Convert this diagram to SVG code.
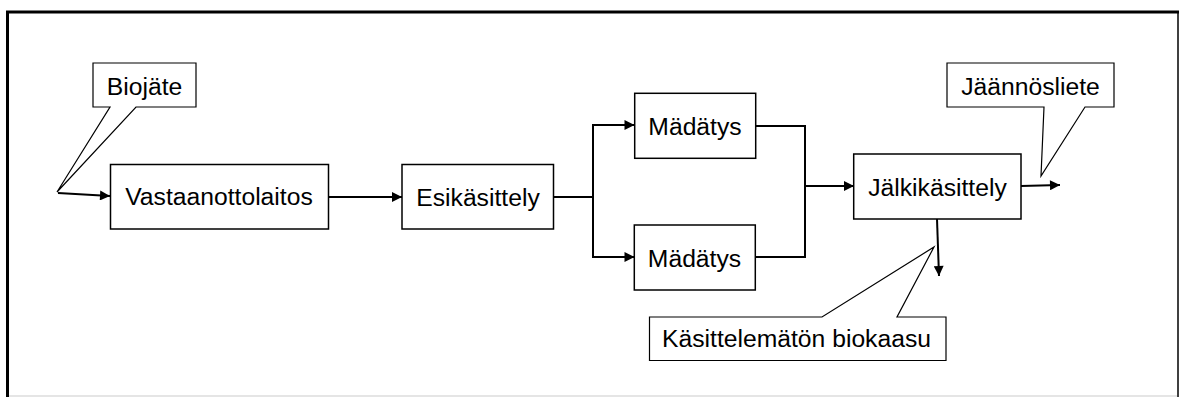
<svg xmlns="http://www.w3.org/2000/svg" width="1182" height="397" viewBox="0 0 1182 397">
  <style>
    .box { fill: #ffffff; stroke: #000000; stroke-width: 1.5; }
    .callout { fill: #ffffff; stroke: #000000; stroke-width: 1.2; stroke-linejoin: miter; }
    .label { font-family: "Liberation Sans", Arial, sans-serif; font-size: 24.7px; fill: #000000; text-anchor: middle; }
    .flow { fill: none; stroke: #000000; stroke-width: 2; }
  </style>
  <defs>
    <marker id="arrow" viewBox="0 0 10 10" refX="10" refY="5" markerWidth="12" markerHeight="10" markerUnits="userSpaceOnUse" orient="auto">
      <path d="M0,0 L10,5 L0,10 Z" fill="#000000"/>
    </marker>
  </defs>

  <rect x="0" y="0" width="1182" height="397" fill="#ffffff"/>

  <!-- frame -->
  <g id="frame">
    <line x1="7.5" y1="11" x2="7.5" y2="397" stroke="#000000" stroke-width="3"/>
    <line x1="6" y1="12" x2="1179" y2="12" stroke="#000000" stroke-width="3"/>
    <line x1="1178" y1="11" x2="1178" y2="397" stroke="#000000" stroke-width="1.5"/>
    <line x1="9" y1="396" x2="1177" y2="396" stroke="#dddddd" stroke-width="1.5"/>
  </g>

  <!-- connectors -->
  <g id="connectors">
    <path class="flow" d="M58,193 L110,196" marker-end="url(#arrow)"/>
    <path class="flow" d="M329,197 L402,197" marker-end="url(#arrow)"/>
    <path class="flow" d="M554,197 H593"/>
    <path class="flow" d="M593,125 V257"/>
    <path class="flow" d="M592,125 H634.5" marker-end="url(#arrow)"/>
    <path class="flow" d="M592,257 H634.5" marker-end="url(#arrow)"/>
    <path class="flow" d="M756,126 H805 V257 H756"/>
    <path class="flow" d="M805,186 H854" marker-end="url(#arrow)"/>
    <path class="flow" d="M1021,186 L1060,185" marker-end="url(#arrow)"/>
    <path class="flow" d="M937,219 L939,276" marker-end="url(#arrow)"/>
  </g>

  <!-- process boxes -->
  <g id="vastaanottolaitos">
    <rect class="box" x="110.5" y="164.5" width="218" height="64.5"/>
    <text class="label" x="219" y="205">Vastaanottolaitos</text>
  </g>
  <g id="esikasittely">
    <rect class="box" x="402" y="164.5" width="151.5" height="64.5"/>
    <text class="label" x="478" y="206">Esikäsittely</text>
  </g>
  <g id="madatys-1">
    <rect class="box" x="634.7" y="93.3" width="121" height="65"/>
    <text class="label" x="695" y="135">Mädätys</text>
  </g>
  <g id="madatys-2">
    <rect class="box" x="634.3" y="225" width="121" height="65"/>
    <text class="label" x="694.5" y="266.5">Mädätys</text>
  </g>
  <g id="jalkikasittely">
    <rect class="box" x="853.7" y="154" width="167.3" height="65"/>
    <text class="label" x="937.5" y="196">Jälkikäsittely</text>
  </g>

  <!-- callouts -->
  <g id="biojate">
    <path class="callout" d="M93,63 H196 V107 H136 L57,192 L110,107 H93 Z"/>
    <text class="label" x="144.5" y="95">Biojäte</text>
  </g>
  <g id="jaannosliete">
    <path class="callout" d="M947,63 H1114 V107 H1085 L1041,176 L1044,107 H947 Z"/>
    <text class="label" x="1030.5" y="95">Jäännösliete</text>
  </g>
  <g id="kasittelematon-biokaasu">
    <path class="callout" d="M649.5,317 H822 L934,247 L897,317 H946 V360.5 H649.5 Z"/>
    <text class="label" x="796.5" y="347">Käsittelemätön biokaasu</text>
  </g>
</svg>
